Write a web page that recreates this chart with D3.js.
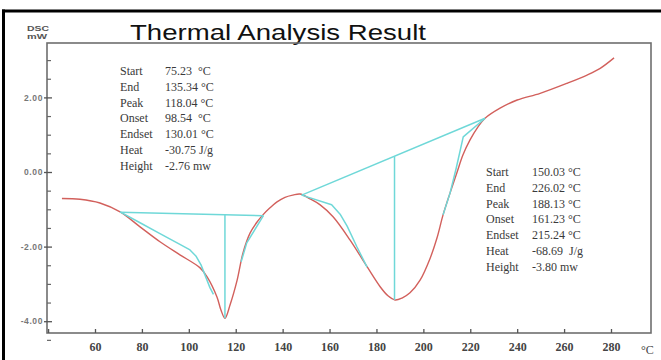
<html>
<head>
<meta charset="utf-8">
<script src="https://cdn.jsdelivr.net/npm/d3@7"></script>
<style>
body { margin: 0; background: #fff; }
svg text { white-space: pre; }
</style>
</head>
<body>
<svg class="chart"></svg>
<script>
// DSC trace
var tempC = [45.9, 53.6, 62.1, 70.7, 79.2, 87.7, 96.2, 104.8, 107.8, 112.0, 113.7, 115.4, 117.6, 120.6, 123.1, 126.1, 129.1, 131.6, 134.6, 137.6, 141.0, 144.4, 147.4, 151.7, 156.0, 161.5, 168.7, 176.0, 181.5, 184.9, 187.9, 190.9, 194.3, 198.6, 202.9, 205.8, 208.4, 211.4, 214.4, 216.9, 219.9, 223.3, 226.3, 232.7, 240.0, 249.8, 261.3, 269.8, 275.4, 281.3];
var dsc = [-0.71, -0.73, -0.83, -1.07, -1.47, -1.87, -2.22, -2.57, -2.81, -3.35, -3.70, -3.92, -3.56, -2.90, -2.17, -1.64, -1.34, -1.15, -0.96, -0.80, -0.68, -0.62, -0.59, -0.72, -0.88, -1.20, -1.82, -2.54, -3.07, -3.32, -3.43, -3.38, -3.24, -2.90, -2.31, -1.77, -1.15, -0.56, 0.00, 0.46, 0.86, 1.21, 1.44, 1.71, 1.93, 2.11, 2.38, 2.60, 2.78, 3.06];

// integration helper lines (cyan) as [temp, value] pairs
var base1 = [[70.7, -1.08], [131.8, -1.17]];
var drop1 = [[115.4, -1.15], [115.4, -3.92]];
var left1 = [[70.7, -1.07], [79.2, -1.36], [87.7, -1.65], [96.2, -1.94], [100.5, -2.09], [103.0, -2.25], [105.2, -2.49], [109.0, -3.10], [110.5, -3.28]];
var right1 = [[122.3, -2.41], [124.7, -1.90], [131.8, -1.17]];
var base2 = [[148.1, -0.62], [226.3, 1.44]];
var drop2 = [[187.7, 0.42], [187.7, -3.43]];
var left2 = [[148.1, -0.62], [160.9, -0.88], [164.5, -1.13], [167.5, -1.45], [171.7, -2.01], [176.0, -2.55]];
var right2 = [[208.4, -1.15], [211.4, -0.56], [214.0, 0.10], [217.0, 0.94], [226.3, 1.44]];

var xTicks = [40, 60, 80, 100, 120, 140, 160, 180, 200, 220, 240, 260, 280];
var yTicks = [-4, -2, 0, 2];
var yTickLabels = ["-4.00", "-2.00", "0.00", "2.00"];
var yMinor = [-4.5, -3.5, -3, -2.5, -1.5, -1, -0.5, 0.5, 1, 1.5, 2.5, 3];

var rowLabels = ["Start", "End", "Peak", "Onset", "Endset", "Heat", "Height"];
var peak1Values = ["75.23  \u00B0C", "135.34 \u00B0C", "118.04 \u00B0C", "98.54  \u00B0C", "130.01 \u00B0C", "-30.75 J/g", "-2.76 mw"];
var peak2Values = ["150.03 \u00B0C", "226.02 \u00B0C", "188.13 \u00B0C", "161.23 \u00B0C", "215.24 \u00B0C", "-68.69  J/g", "-3.80 mw"];

var width = 661, height = 360;
var plotL = 47, plotT = 43, plotR = 651, plotB = 333;

var svg = d3.select(".chart").attr("width", width).attr("height", height);

var x = d3.scaleLinear().domain([60, 280]).range([95, 611]);
var y = d3.scaleLinear().domain([0, 2]).range([172, 97.4]);

// outer black border (left and top only)
svg.append("line").attr("x1", 3.5).attr("x2", 3.5).attr("y1", 9.5).attr("y2", height)
	.attr("stroke", "#000").attr("stroke-width", 3);
svg.append("line").attr("x1", 2).attr("x2", width).attr("y1", 11).attr("y2", 11)
	.attr("stroke", "#000").attr("stroke-width", 3);

// title and unit label
svg.append("text").attr("x", 130).attr("y", 40)
	.attr("font-family", "Liberation Sans, Arial, sans-serif").attr("font-size", "22px")
	.attr("fill", "#111").attr("textLength", 296).attr("lengthAdjust", "spacingAndGlyphs")
	.text("Thermal Analysis Result");
svg.append("text").attr("x", 27).attr("y", 31)
	.attr("font-family", "Liberation Sans, Arial, sans-serif").attr("font-size", "7px").attr("font-weight", "bold")
	.attr("fill", "#555").attr("textLength", 22).attr("lengthAdjust", "spacingAndGlyphs").text("DSC");
svg.append("text").attr("x", 27).attr("y", 38.5)
	.attr("font-family", "Liberation Sans, Arial, sans-serif").attr("font-size", "7px").attr("font-weight", "bold")
	.attr("fill", "#555").attr("textLength", 20).attr("lengthAdjust", "spacingAndGlyphs").text("mW");

// plot frame
svg.append("rect").attr("x", plotL).attr("y", plotT).attr("width", plotR - plotL).attr("height", plotB - plotT)
	.attr("fill", "none").attr("stroke", "#6e6e6e").attr("stroke-width", 1.6);

// y axis
var yAxis = svg.append("g").attr("transform", "translate(" + plotL + ",0)")
	.call(d3.axisLeft(y).tickValues(yTicks).tickSize(-5).tickPadding(4)
		.tickFormat(function(d, i) { return yTickLabels[i]; }));
yAxis.select(".domain").remove();
yAxis.selectAll("line").attr("x1", -3).attr("x2", 5).attr("stroke", "#555").attr("stroke-width", 1.3);
yAxis.selectAll("text").attr("font-family", "Liberation Sans, Arial, sans-serif")
	.attr("font-size", "8.5px").attr("font-weight", "bold").attr("fill", "#777")
	.attr("letter-spacing", "0.6px");

var yAxisMinor = svg.append("g").attr("transform", "translate(" + plotL + ",0)")
	.call(d3.axisLeft(y).tickValues(yMinor).tickSize(-4).tickFormat(""));
yAxisMinor.select(".domain").remove();
yAxisMinor.selectAll("line").attr("stroke", "#666").attr("stroke-width", 1.2);

// x axis
var xAxis = svg.append("g").attr("transform", "translate(0," + plotB + ")")
	.call(d3.axisBottom(x).tickValues(xTicks).tickSize(-4).tickPadding(9)
		.tickFormat(function(d) { return d == 40 ? "" : d; }));
xAxis.select(".domain").remove();
xAxis.selectAll("line").attr("stroke", "#555").attr("stroke-width", 1.3);
xAxis.selectAll("text").attr("font-family", "Liberation Serif, Times New Roman, serif")
	.attr("font-size", "12px").attr("font-weight", "bold").attr("fill", "#444");

svg.append("text").attr("x", 641).attr("y", 354)
	.attr("font-family", "Liberation Serif, Times New Roman, serif").attr("font-size", "12px")
	.attr("fill", "#444").text("\u00B0C");

// DSC curve
var line = d3.line()
	.x(function(d) { return x(d[0]); })
	.y(function(d) { return y(d[1]); })
	.curve(d3.curveCatmullRom);

var curve = tempC.map(function(t, i) { return [t, dsc[i]]; });
svg.append("path").datum(curve).attr("d", line)
	.attr("fill", "none").attr("stroke", "#d2605c").attr("stroke-width", 1.4);

var straight = d3.line()
	.x(function(d) { return x(d[0]); })
	.y(function(d) { return y(d[1]); });

[base1, drop1, left1, right1, base2, drop2, left2, right2].forEach(function(seg) {
	svg.append("path").datum(seg).attr("d", straight)
		.attr("fill", "none").attr("stroke", "#6fd8d8").attr("stroke-width", 1.5)
		.attr("stroke-linejoin", "round");
});

// result tables
function table(xl, xv, y0, values) {
	var g = svg.append("g")
		.attr("font-family", "Liberation Serif, Times New Roman, serif")
		.attr("font-size", "12px").attr("fill", "#3a3a3a");
	rowLabels.forEach(function(lab, i) {
		g.append("text").attr("x", xl).attr("y", y0 + i * 15.8).text(lab);
		g.append("text").attr("x", xv).attr("y", y0 + i * 15.8).text(values[i]);
	});
}
table(120, 165, 75, peak1Values);
table(486, 532, 176, peak2Values);
</script>
</body>
</html>
